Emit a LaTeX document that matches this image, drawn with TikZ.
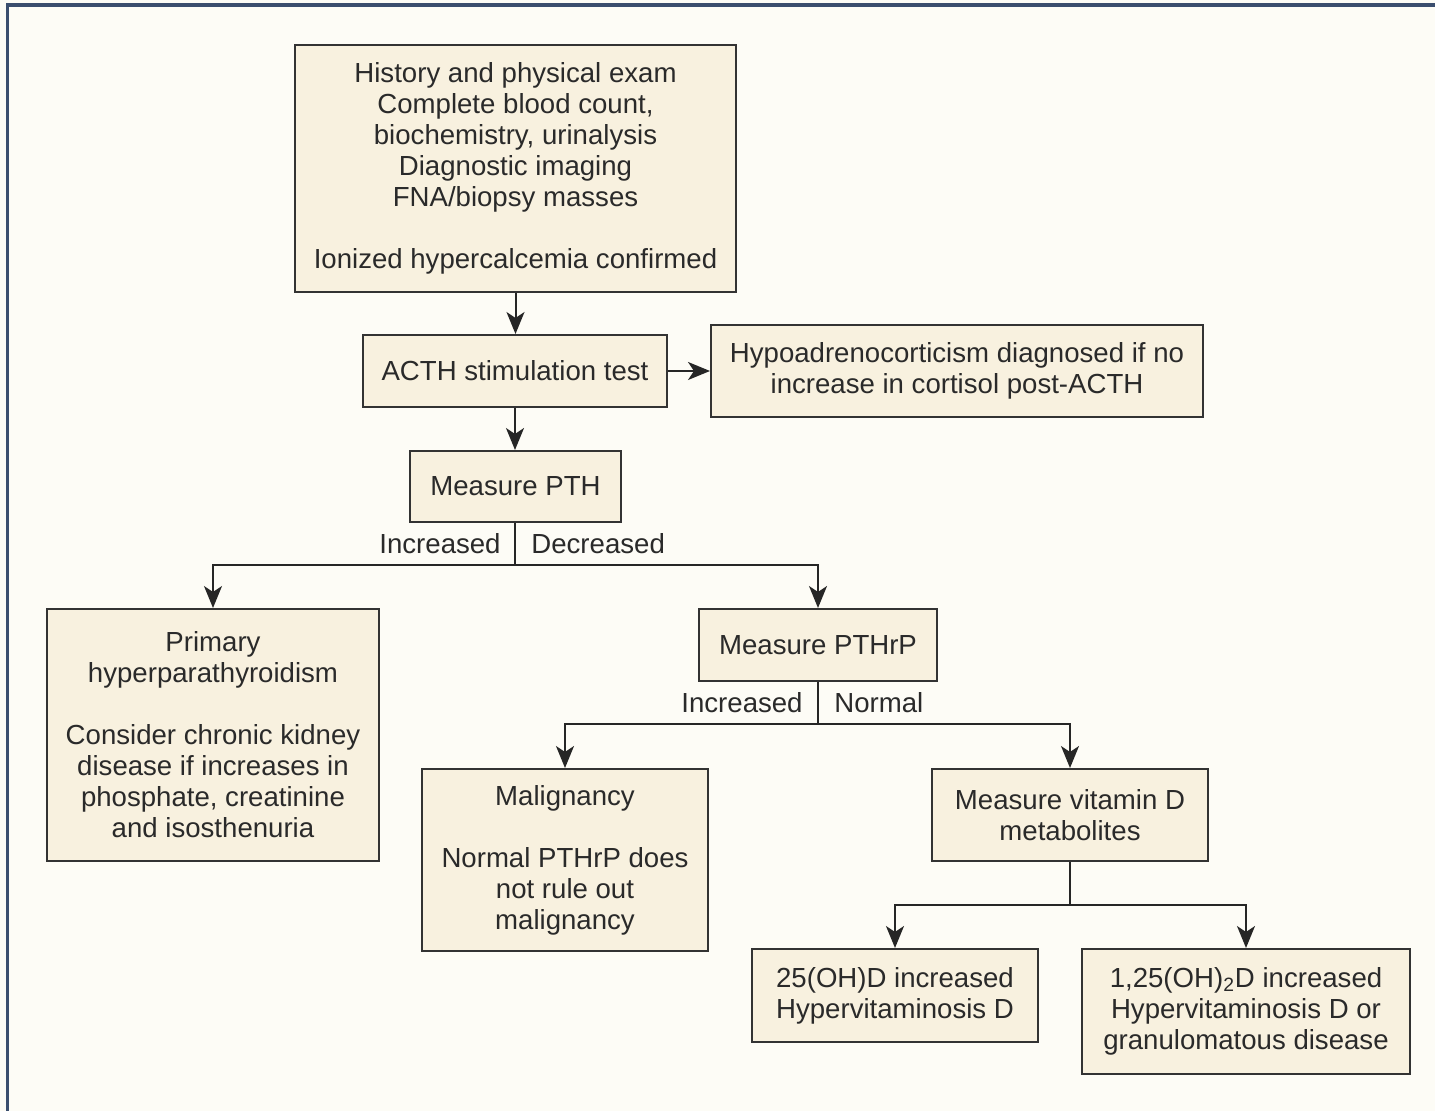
\documentclass[tikz,border=0pt]{standalone}
\usepackage{fontspec}
\setmainfont{Liberation Sans}
\usetikzlibrary{arrows.meta}
\definecolor{bgc}{HTML}{FDFCF6}
\definecolor{boxfill}{HTML}{F8F1DF}
\definecolor{boxline}{HTML}{333333}
\definecolor{txt}{HTML}{2A2A2A}
\definecolor{frame}{HTML}{3B4E6E}
\tikzset{
  box/.style={draw=boxline, line width=1pt, fill=boxfill, align=center, inner sep=0pt,
    text=txt, font=\fontsize{13.8pt}{15.5pt}\selectfont},
  lowtext/.style={execute at begin node={\rule{0pt}{12.5pt}}},
  lbl/.style={text=txt, inner sep=0pt, font=\fontsize{13.8pt}{15.5pt}\selectfont},
  conn/.style={draw=black!85, line width=1pt},
  arr/.style={conn, -{Stealth[length=11pt,width=9pt,inset=3pt]}}
}
\begin{document}
\begin{tikzpicture}[x=0.5pt,y=-0.5pt]
\useasboundingbox (0,0) rectangle (1435,1111);
\fill[bgc] (0,0) rectangle (1435,1111);
\draw[frame, line width=1.8pt] (7.5,1111) -- (7.5,5) -- (1435,5);

\node[box, lowtext, minimum width=220.5pt, minimum height=123.5pt] (top) at (515.5,168.5)
  {History and physical exam\\Complete blood count,\\biochemistry, urinalysis\\Diagnostic imaging\\FNA/biopsy masses\\[15.5pt]Ionized hypercalcemia confirmed};
\node[box, minimum width=152pt, minimum height=36pt] (acth) at (515,371) {ACTH stimulation test};
\node[box, lowtext, minimum width=246pt, minimum height=46pt] (hypo) at (957,371)
  {Hypoadrenocorticism diagnosed if no\\increase in cortisol post-ACTH};
\node[box, minimum width=105.5pt, minimum height=35.5pt] (pth) at (515.5,486.5) {Measure PTH};
\node[box, minimum width=166pt, minimum height=126pt] (prim) at (213,735)
  {Primary\\hyperparathyroidism\\[15.5pt]Consider chronic kidney\\disease if increases in\\phosphate, creatinine\\and isosthenuria};
\node[box, minimum width=119pt, minimum height=36pt] (pthrp) at (818,645) {Measure PTHrP};
\node[box, lowtext, minimum width=143pt, minimum height=91pt] (malig) at (565,860)
  {Malignancy\\[15.5pt]Normal PTHrP does\\not rule out\\malignancy};
\node[box, minimum width=138pt, minimum height=46pt] (vitd) at (1070,815)
  {Measure vitamin D\\metabolites};
\node[box, lowtext, minimum width=143pt, minimum height=46.5pt] (ohd) at (895,995.5)
  {25(OH)D increased\\Hypervitaminosis D};
\node[box, lowtext, minimum width=164pt, minimum height=62.5pt] (dihyd) at (1246,1011.5)
  {1,25(OH)\textsubscript{2}D increased\\Hypervitaminosis D or\\granulomatous disease};

% connectors
\draw[arr] (top.south) -- (top.south |- acth.north);
\draw[arr] (acth.east) -- (acth.east -| hypo.west);
\draw[arr] (acth.south) -- (acth.south |- pth.north);

\coordinate (b1) at (515,565);
\draw[conn] (pth.south -| b1) -- (b1);
\draw[arr] (b1) -| (prim.north);
\draw[arr] (b1) -| (pthrp.north);
\node[lbl, anchor=east] (inc1) at (501,544) {Increased};
\node[lbl, anchor=west] (dec1) at (531,544) {Decreased};

\coordinate (b2) at (818,724);
\draw[conn] (pthrp.south) -- (b2);
\draw[arr] (b2) -| (malig.north);
\draw[arr] (b2) -| (vitd.north);
\node[lbl, anchor=east] (inc2) at (803,703) {Increased};
\node[lbl, anchor=west] (nor2) at (834,703) {Normal};

\coordinate (b3) at (1070,905);
\draw[conn] (vitd.south) -- (b3);
\draw[arr] (b3) -| (ohd.north);
\draw[arr] (b3) -| (dihyd.north);
\end{tikzpicture}
\end{document}
